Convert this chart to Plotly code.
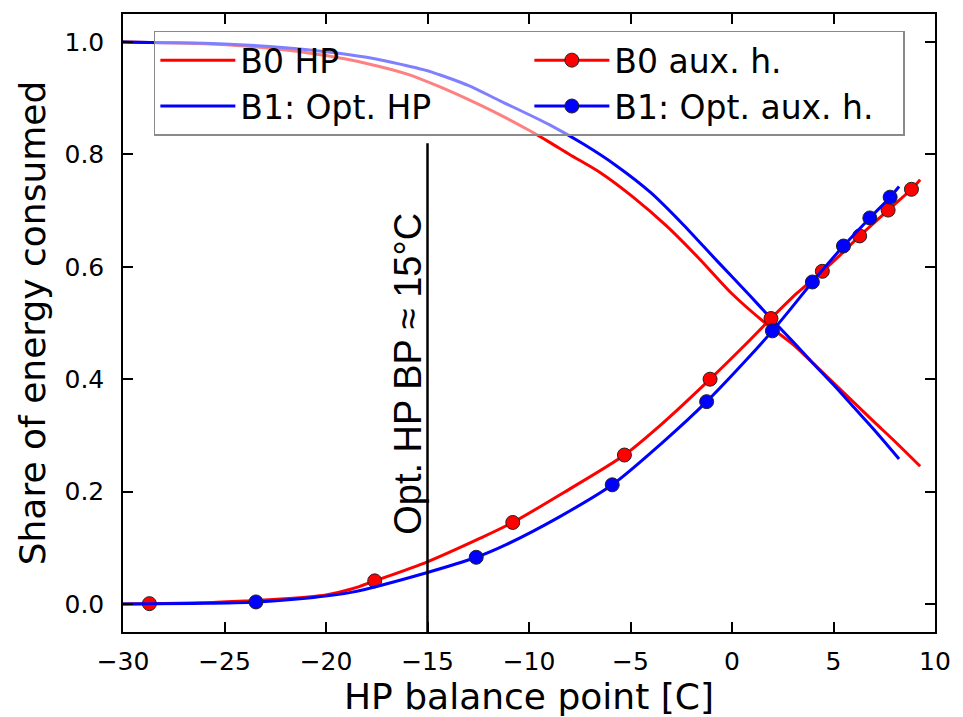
import plotly.graph_objects as go

# ---- data ----
hp_b0_x = [-30, -28, -26, -24, -22, -20, -18, -16, -14.5, -13, -11.4, -10, -9, -8, -6.5, -4.9, -3.2, -1.6, 0, 1.7, 3, 4, 5.5, 7, 8, 9.27]
hp_b0_y = [1.0, 0.999, 0.997, 0.993, 0.986, 0.976, 0.962, 0.943, 0.922, 0.898, 0.870, 0.843, 0.822, 0.800, 0.768, 0.725, 0.672, 0.614, 0.552, 0.498, 0.462, 0.428, 0.376, 0.324, 0.290, 0.245]

hp_b1_x = [-30, -28, -26, -24, -22, -20, -18, -17, -15, -14.5, -13, -11.4, -9, -7.3, -5.7, -4, -2.4, -0.75, 0.9, 2.0, 3, 4, 5, 6, 7, 8.23]
hp_b1_y = [1.0, 0.999, 0.998, 0.995, 0.990, 0.983, 0.973, 0.966, 0.949, 0.943, 0.923, 0.895, 0.853, 0.818, 0.780, 0.732, 0.675, 0.611, 0.548, 0.505, 0.467, 0.428, 0.390, 0.350, 0.310, 0.258]

aux_b0_x = [-30, -28.7, -26, -24, -22, -20, -18.7, -17.6, -15, -12.4, -10.8, -8.3, -5.3, -3.4, -1.08, 0.7, 1.92, 3.2, 4.45, 5.3, 6.29, 7.69, 8.84, 9.27]
aux_b0_y = [0.0, 0.0005, 0.002, 0.005, 0.009, 0.016, 0.027, 0.041, 0.075, 0.117, 0.145, 0.198, 0.265, 0.322, 0.400, 0.463, 0.508, 0.553, 0.592, 0.620, 0.655, 0.701, 0.738, 0.755]
aux_b0_mx = [-28.7, -17.6, -10.8, -5.3, -1.08, 1.92, 4.45, 6.29, 7.69, 8.84]
aux_b0_my = [0.0005, 0.041, 0.145, 0.265, 0.400, 0.508, 0.592, 0.655, 0.701, 0.738]

aux_b1_x = [-30, -26, -23.45, -21, -18.7, -15, -12.6, -11.1, -8.5, -5.9, -3.4, -1.25, 0.7, 1.99, 3.0, 3.96, 5.49, 6.79, 7.79, 8.23]
aux_b1_y = [0.0, 0.001, 0.0035, 0.010, 0.021, 0.056, 0.083, 0.106, 0.155, 0.212, 0.288, 0.360, 0.434, 0.486, 0.530, 0.573, 0.637, 0.687, 0.724, 0.743]
aux_b1_mx = [-23.45, -12.6, -5.9, -1.25, 1.99, 3.96, 5.49, 6.79, 7.79]
aux_b1_my = [0.0035, 0.083, 0.212, 0.360, 0.486, 0.573, 0.637, 0.687, 0.724]

opt_bp_x = [-15, -15]
opt_bp_y = [-0.05, 0.82]

x_ticks = [-30, -25, -20, -15, -10, -5, 0, 5, 10]
y_ticks = [0.0, 0.2, 0.4, 0.6, 0.8, 1.0]

RED = "#ff0000"
BLUE = "#0000ff"
LW = 3
MS = 14
AXFONT = "DejaVu Sans"
SPL = dict(shape="spline", smoothing=0.8)

fig = go.Figure()

fig.add_trace(go.Scatter(x=hp_b0_x, y=hp_b0_y, mode="lines", name="B0 HP",
                         line=dict(color=RED, width=LW, **SPL), legendrank=1))
fig.add_trace(go.Scatter(x=hp_b1_x, y=hp_b1_y, mode="lines", name="B1: Opt. HP",
                         line=dict(color=BLUE, width=LW, **SPL), legendrank=3))
fig.add_trace(go.Scatter(x=aux_b0_x, y=aux_b0_y, mode="lines", showlegend=False,
                         line=dict(color=RED, width=LW, **SPL)))
fig.add_trace(go.Scatter(x=aux_b0_mx, y=aux_b0_my, mode="markers", showlegend=False,
                         marker=dict(color=RED, size=MS, line=dict(color="#222", width=1))))
fig.add_trace(go.Scatter(x=aux_b1_x, y=aux_b1_y, mode="lines", showlegend=False,
                         line=dict(color=BLUE, width=LW, **SPL)))
fig.add_trace(go.Scatter(x=aux_b1_mx, y=aux_b1_my, mode="markers", showlegend=False,
                         marker=dict(color=BLUE, size=MS, line=dict(color="#222", width=1))))
# legend-only entries for the line+marker series
fig.add_trace(go.Scatter(x=[None], y=[None], mode="lines+markers", name="B0 aux. h.",
                         line=dict(color=RED, width=LW),
                         marker=dict(color=RED, size=MS, line=dict(color="#222", width=1)),
                         legendrank=2))
fig.add_trace(go.Scatter(x=[None], y=[None], mode="lines+markers", name="B1: Opt. aux. h.",
                         line=dict(color=BLUE, width=LW),
                         marker=dict(color=BLUE, size=MS, line=dict(color="#222", width=1)),
                         legendrank=4))
# optimal balance point marker line
fig.add_trace(go.Scatter(x=opt_bp_x, y=opt_bp_y, mode="lines", showlegend=False,
                         line=dict(color="black", width=2.5)))

fig.add_annotation(x=-16.0, y=0.41, xref="x", yref="y", text="Opt. HP BP ≈ 15°C",
                   textangle=-90, showarrow=False, xanchor="center", yanchor="middle",
                   font=dict(family="Liberation Sans, Arial", size=38, color="black"))

axis_common = dict(showgrid=False, zeroline=False, showline=True, linecolor="black",
                   linewidth=1.5, mirror="ticks", ticks="inside", ticklen=10,
                   tickwidth=1.5, tickcolor="black",
                   tickfont=dict(family=AXFONT, size=25, color="black"))

fig.update_xaxes(range=[-30, 10], tickvals=x_ticks, ticklabelstandoff=6,
                 title=dict(text="HP balance point [C]", standoff=4,
                            font=dict(family=AXFONT, size=36, color="black")),
                 **axis_common)
fig.update_yaxes(range=[-0.05, 1.05], tickvals=y_ticks, tickformat=".1f",
                 ticklabelstandoff=12,
                 title=dict(text="Share of energy consumed", standoff=8,
                            font=dict(family=AXFONT, size=36, color="black")),
                 **axis_common)

fig.update_layout(
    width=963, height=717,
    margin=dict(l=123, r=28, t=13, b=76),
    paper_bgcolor="white", plot_bgcolor="white",
    showlegend=True,
    legend=dict(orientation="h", x=0.038, y=0.973, xanchor="left", yanchor="top",
                entrywidth=284, entrywidthmode="pixels", itemwidth=75,
                bgcolor="rgba(255,255,255,0.5)", bordercolor="#8a8a8a", borderwidth=1.5,
                font=dict(family=AXFONT, size=33, color="black")),
)

fig.write_html("out.html")
